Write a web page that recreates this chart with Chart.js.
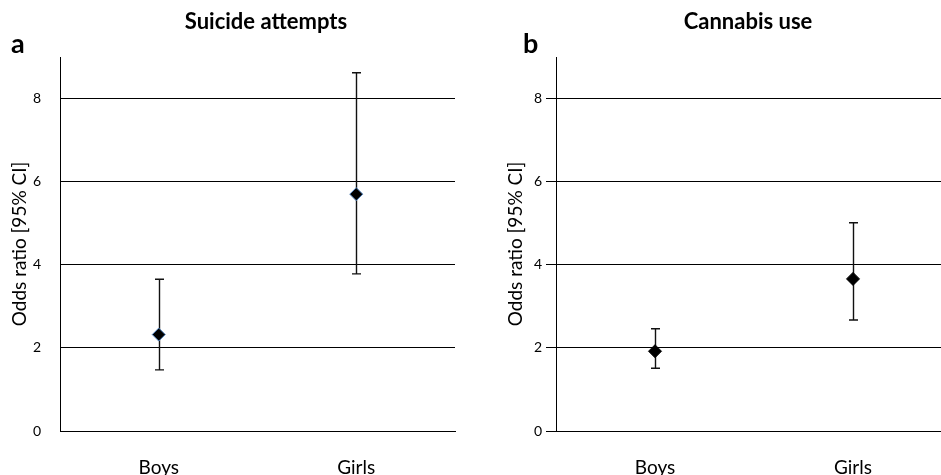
<!DOCTYPE html>
<html>
<head>
<meta charset="utf-8">
<script src="https://cdn.jsdelivr.net/npm/chart.js@4.4.1/dist/chart.umd.min.js"></script>
<style>
  html, body { margin: 0; padding: 0; background: #fff; overflow: hidden; width: 941px; height: 475px; }
  #wrapA { position: absolute; left: 0; top: 0; width: 470px; height: 475px; }
  #wrapB { position: absolute; left: 470px; top: 0; width: 500px; height: 475px; }
</style>
</head>
<body>
<div id="wrapA"><canvas id="chartA" width="470" height="475"></canvas></div>
<div id="wrapB"><canvas id="chartB" width="500" height="475"></canvas></div>
<script>
// ---- Data ----
const categories = ['Boys', 'Girls'];
const yTicks = [0, 2, 4, 6, 8];

const suicideOR    = [2.32, 5.70];
const suicideLower = [1.47, 3.78];
const suicideUpper = [3.65, 8.62];

const cannabisOR    = [1.92, 3.66];
const cannabisLower = [1.51, 2.67];
const cannabisUpper = [2.46, 5.01];

const FONT = 'Lato, "Open Sans", sans-serif';

const errorBarPlugin = {
  id: 'errorBars',
  beforeDatasetsDraw(chart, args, opts) {
    const ctx = chart.ctx;
    const x = chart.scales.x, y = chart.scales.y;
    ctx.save();
    ctx.strokeStyle = '#111';
    ctx.lineWidth = 1.4;
    opts.lower.forEach((lo, i) => {
      const hi = opts.upper[i];
      const px = Math.round(x.getPixelForValue(i)) + 0.5;
      const y1 = y.getPixelForValue(lo), y2 = y.getPixelForValue(hi);
      ctx.beginPath();
      ctx.moveTo(px, y1); ctx.lineTo(px, y2);
      ctx.moveTo(px - 4.5, y1); ctx.lineTo(px + 4.5, y1);
      ctx.moveTo(px - 4.5, y2); ctx.lineTo(px + 4.5, y2);
      ctx.stroke();
    });
    ctx.restore();
  }
};

const labelsPlugin = {
  id: 'panelLabels',
  afterDraw(chart, args, opts) {
    const ctx = chart.ctx;
    ctx.save();
    ctx.fillStyle = '#000';
    ctx.textAlign = 'center';
    ctx.textBaseline = 'middle';
    ctx.font = 'bold 22px ' + FONT;
    ctx.fillText(opts.title, opts.titleX, 22);
    ctx.textAlign = 'left';
    ctx.font = 'bold 27px ' + FONT;
    ctx.fillText(opts.letter, opts.letterX, 44);
    ctx.restore();
  }
};

function makeChart(id, values, lower, upper, borderColor, yWidth, drawTicks, tickPad, title, titleX, letter, letterX, padRight, titlePad) {
  return new Chart(document.getElementById(id), {
    type: 'line',
    data: {
      labels: categories,
      datasets: [{
        data: values,
        showLine: false,
        pointStyle: 'rectRot',
        pointRadius: 6.5,
        pointHoverRadius: 6.5,
        pointBackgroundColor: '#000',
        pointBorderColor: borderColor,
        pointBorderWidth: 1
      }]
    },
    options: {
      responsive: false,
      animation: false,
      events: [],
      layout: { padding: { top: 57, right: padRight, left: 0, bottom: 0 } },
      plugins: {
        legend: { display: false },
        tooltip: { enabled: false },
        errorBars: { lower: lower, upper: upper },
        panelLabels: { title: title, titleX: titleX, letter: letter, letterX: letterX }
      },
      scales: {
        x: {
          type: 'category',
          offset: true,
          grid: { display: false, drawTicks: false },
          border: { display: true, color: '#000', width: 1 },
          ticks: { color: '#000', font: { family: FONT, size: 19 }, padding: 25 },
          afterFit(s) { s.height = 44; }
        },
        y: {
          min: 0,
          max: 9,
          afterBuildTicks(s) { s.ticks = yTicks.map(v => ({ value: v })); },
          grid: { color: '#000', lineWidth: 1, drawTicks: drawTicks, tickLength: 10 },
          border: { display: true, color: '#000', width: 1 },
          ticks: { color: '#000', font: { family: FONT, size: 14 }, padding: tickPad },
          title: { display: true, text: 'Odds ratio [95% CI]', color: '#000', font: { family: FONT, size: 19 }, padding: { top: titlePad, bottom: 0 } },
          afterFit(s) { s.width = yWidth; }
        }
      }
    },
    plugins: [errorBarPlugin, labelsPlugin]
  });
}

makeChart('chartA', suicideOR, suicideLower, suicideUpper, '#4f81bd', 60, false, 19,
  'Suicide attempts', 266, 'a', 11, 15, 8);
makeChart('chartB', cannabisOR, cannabisLower, cannabisUpper, '#000', 86, true, 4,
  'Cannabis use', 278, 'b', 53, 18, 34);
</script>
</body>
</html>
